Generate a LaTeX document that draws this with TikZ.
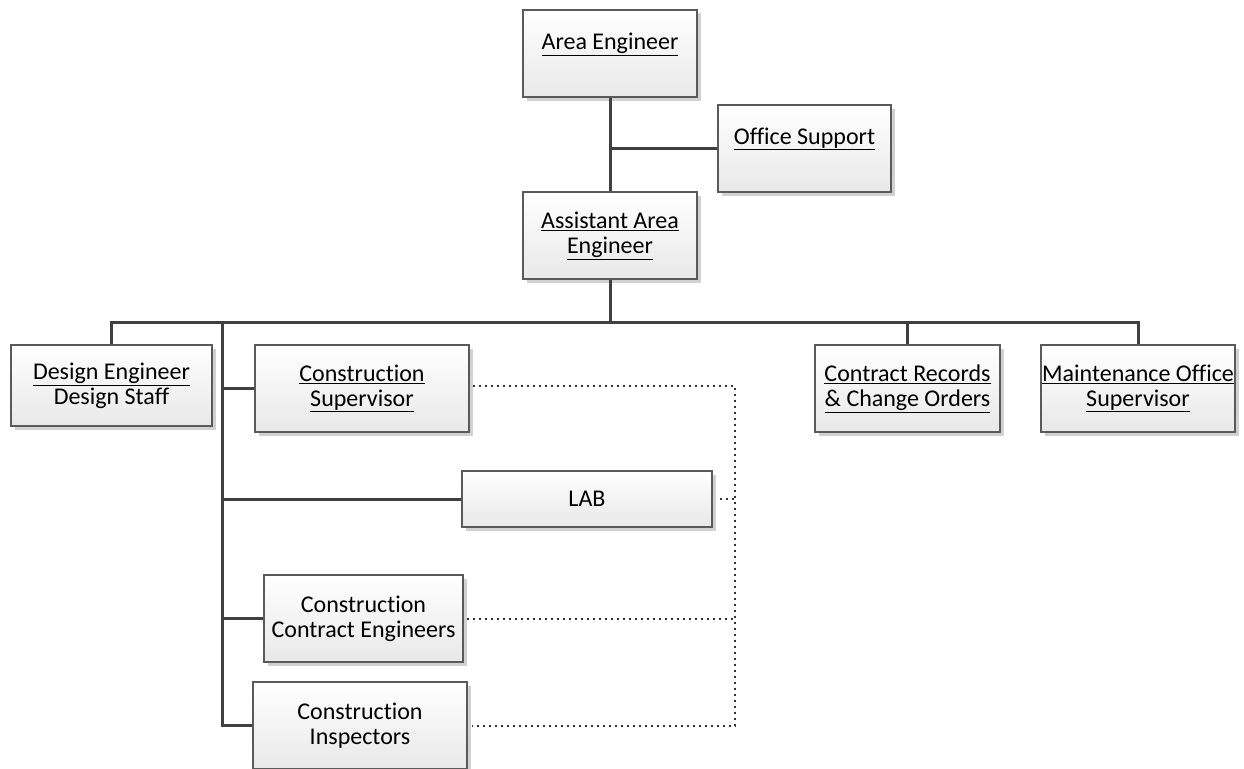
\documentclass[tikz,border=0pt]{standalone}
\usepackage{fontspec}
\setmainfont{Carlito}[Ligatures={NoCommon}]
\usetikzlibrary{shadows}
\definecolor{linec}{HTML}{404040}
\definecolor{boxline}{HTML}{5A5A5A}
\tikzset{
 box/.style={draw=boxline, line width=1.2pt, top color=white, bottom color=black!9,
   drop shadow={shadow xshift=3.5pt, shadow yshift=-3.5pt, fill=black!18, opacity=1},
   align=center, font=\fontsize{24}{25}\selectfont, inner sep=0pt},
 conn/.style={draw=linec, line width=3pt},
 dots/.style={draw=black!80, line width=2pt, dash pattern=on 2pt off 4pt}
}
\begin{document}
\begin{tikzpicture}[x=1pt,y=-1pt]
\useasboundingbox (0,0) rectangle (1244,768);
\node[box, minimum width=174pt, minimum height=87pt] (ae) at (610,53.5) {\underline{Area Engineer}\\\mbox{}};
\node[box, minimum width=173pt, minimum height=87pt] (os) at (804.5,148.5) {\underline{Office Support}\\\mbox{}};
\node[box, minimum width=174pt, minimum height=87pt] (aae) at (610,235.5) {\underline{Assistant Area}\\\underline{Engineer}};
\node[box, minimum width=201pt, minimum height=81pt] (de) at (111.5,385.5) {\underline{Design Engineer}\\Design Staff};
\node[box, minimum width=214pt, minimum height=87pt] (cs) at (362,388.5) {\underline{Construction}\\\underline{Supervisor}};
\node[box, minimum width=250pt, minimum height=56pt] (lab) at (587,499) {LAB};
\node[box, minimum width=199pt, minimum height=87pt] (cce) at (363.5,618.5) {Construction\\Contract Engineers};
\node[box, minimum width=214pt, minimum height=87pt] (ci) at (360,725.5) {Construction\\Inspectors};
\node[box, minimum width=185pt, minimum height=87pt] (cr) at (907.5,388.5) {\underline{Contract Records}\\\underline{\& Change Orders}};
\node[box, minimum width=194pt, minimum height=87pt] (mos) at (1138,388.5) {\underline{Maintenance Office}\\\underline{Supervisor}};
\coordinate (bus) at (610,322);
\coordinate (trunk) at (222,322);
\coordinate (dv) at (735,386);
\draw[conn] (ae.south) -- (aae.north);
\draw[conn] (ae.south |- os.west) -- (os.west);
\draw[conn] (aae.south) -- (bus);
\draw[conn] (de.north) -- (de.north |- bus) -- (mos.north |- bus) -- (mos.north);
\draw[conn] (cr.north) -- (cr.north |- bus);
\draw[conn] (trunk) |- (ci.west);
\draw[conn] (trunk |- cs.west) -- (cs.west);
\draw[conn] (trunk |- lab.west) -- (lab.west);
\draw[conn] (trunk |- cce.west) -- (cce.west);
\draw[dots] ([xshift=3pt]cs.east |- dv) -- (dv) -- (dv |- ci.east) -- ([xshift=4pt]ci.east);
\draw[dots] ([xshift=7pt]lab.east) -- (lab.east -| dv);
\draw[dots] ([xshift=3pt]cce.east) -- (cce.east -| dv);
\end{tikzpicture}
\end{document}
